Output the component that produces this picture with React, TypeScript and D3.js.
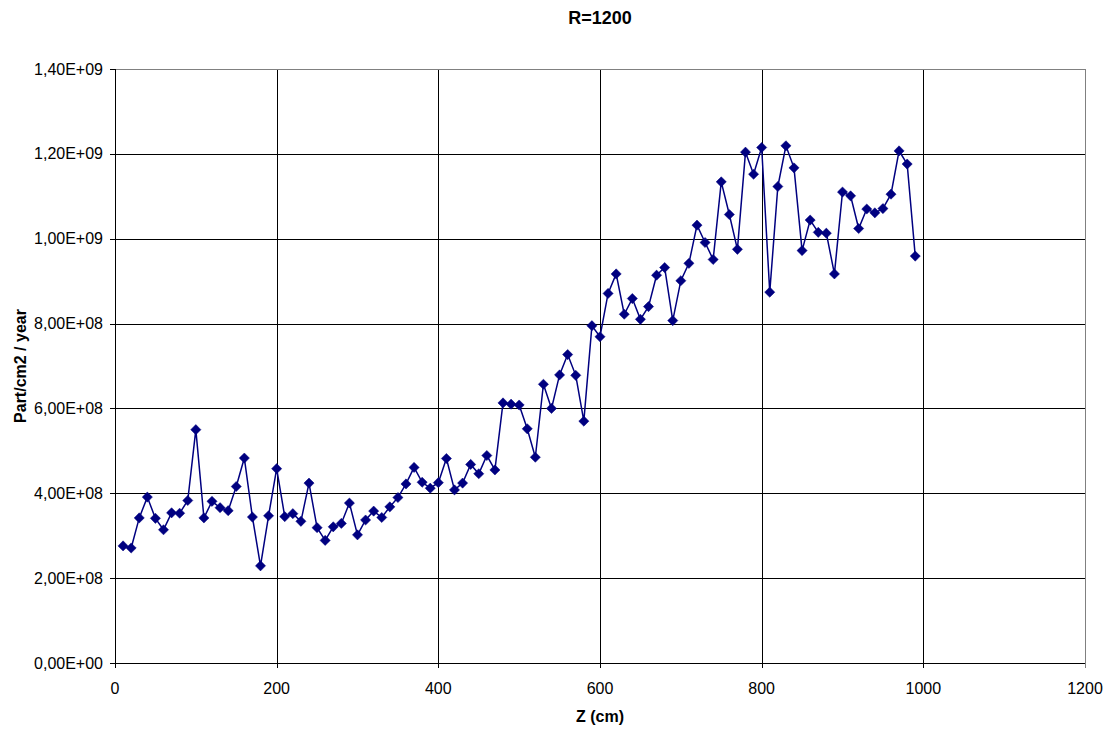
import React, { useEffect } from "react";
import * as d3 from "d3";

const zValues = [
  10, 20, 30, 40, 50, 60, 70, 80, 90, 100,
  110, 120, 130, 140, 150, 160, 170, 180, 190, 200,
  210, 220, 230, 240, 250, 260, 270, 280, 290, 300,
  310, 320, 330, 340, 350, 360, 370, 380, 390, 400,
  410, 420, 430, 440, 450, 460, 470, 480, 490, 500,
  510, 520, 530, 540, 550, 560, 570, 580, 590, 600,
  610, 620, 630, 640, 650, 660, 670, 680, 690, 700,
  710, 720, 730, 740, 750, 760, 770, 780, 790, 800,
  810, 820, 830, 840, 850, 860, 870, 880, 890, 900,
  910, 920, 930, 940, 950, 960, 970, 980, 990,
];

// values in units of 1e8 part/cm2/year
const fluxValues = [
  2.76, 2.71, 3.42, 3.91, 3.41, 3.14, 3.54, 3.53, 3.83, 5.5,
  3.42, 3.81, 3.66, 3.59, 4.16, 4.83, 3.44, 2.29, 3.47, 4.58,
  3.45, 3.52, 3.34, 4.24, 3.19, 2.89, 3.21, 3.29, 3.77, 3.02,
  3.37, 3.58, 3.43, 3.68, 3.9, 4.22, 4.61, 4.26, 4.12, 4.25,
  4.82, 4.08, 4.24, 4.68, 4.46, 4.89, 4.55, 6.13, 6.1, 6.08,
  5.52, 4.85, 6.57, 6.0, 6.79, 7.27, 6.78, 5.7, 7.95, 7.69,
  8.71, 9.17, 8.22, 8.59, 8.1, 8.4, 9.14, 9.32, 8.07, 9.01,
  9.42, 10.32, 9.91, 9.51, 11.34, 10.57, 9.75, 12.04, 11.52, 12.15,
  8.74, 11.23, 12.19, 11.67, 9.72, 10.44, 10.15, 10.13, 9.17, 11.1,
  11.01, 10.24, 10.7, 10.61, 10.71, 11.05, 12.07, 11.76, 9.59,
];

const xTicks = [0, 200, 400, 600, 800, 1000, 1200];
const yTicks = [0, 2e8, 4e8, 6e8, 8e8, 1e9, 1.2e9, 1.4e9];

const chartTitle = "R=1200";
const xTitle = "Z (cm)";
const yTitle = "Part/cm2 / year";

const W = 1110;
const H = 731;
const left = 115;
const right = 1085;
const top = 69;
const bottom = 663;

const fmtSci = (v: number) => {
  if (v === 0) return "0,00E+00";
  const e = Math.floor(Math.log10(v));
  const m = v / Math.pow(10, e);
  const sign = e < 0 ? "-" : "+";
  const ea = Math.abs(e);
  return m.toFixed(2).replace(".", ",") + "E" + sign + (ea < 10 ? "0" + ea : String(ea));
};

export default function App() {
  useEffect(() => {
    document.body.style.margin = "0";
  }, []);

  const x = d3.scaleLinear().domain([0, 1200]).range([left, right]);
  const y = d3.scaleLinear().domain([0, 1.4e9]).range([bottom, top]);

  const points = zValues.map((z, i) => ({ z, v: fluxValues[i] * 1e8 }));
  const line = d3
    .line<{ z: number; v: number }>()
    .x((d) => x(d.z))
    .y((d) => y(d.v));

  const diamond = d3.symbol().type(d3.symbolDiamond2).size(66)() as string;
  const font = "'Liberation Sans', Arial, sans-serif";

  return (
    <svg width={W} height={H} style={{ display: "block", background: "#fff" }}>
      {yTicks.slice(1, -1).map((t) => (
        <line key={"gy" + t} x1={left} x2={right} y1={Math.round(y(t)) + 0.5} y2={Math.round(y(t)) + 0.5} stroke="#000" strokeWidth={1} />
      ))}
      {xTicks.slice(1, -1).map((t) => (
        <line key={"gx" + t} x1={Math.round(x(t)) + 0.5} x2={Math.round(x(t)) + 0.5} y1={top} y2={bottom} stroke="#000" strokeWidth={1} />
      ))}
      <line x1={left} x2={right + 0.5} y1={top + 0.5} y2={top + 0.5} stroke="#808080" strokeWidth={1} />
      <line x1={right + 0.5} x2={right + 0.5} y1={top} y2={bottom} stroke="#808080" strokeWidth={1} />
      <line x1={left + 0.5} x2={left + 0.5} y1={top} y2={bottom + 5} stroke="#000" strokeWidth={1} />
      <line x1={left - 5} x2={right + 1} y1={bottom + 0.5} y2={bottom + 0.5} stroke="#000" strokeWidth={1} />
      {yTicks.map((t) => (
        <g key={"ty" + t}>
          <line x1={left - 5} x2={left} y1={Math.round(y(t)) + 0.5} y2={Math.round(y(t)) + 0.5} stroke="#000" />
          <text x={103} y={y(t)} dy="0.35em" textAnchor="end" fontFamily={font} fontSize={16} fill="#000">
            {fmtSci(t)}
          </text>
        </g>
      ))}
      {xTicks.map((t) => (
        <g key={"tx" + t}>
          <line x1={Math.round(x(t)) + 0.5} x2={Math.round(x(t)) + 0.5} y1={bottom} y2={bottom + 5} stroke={t === 1200 ? "#808080" : "#000"} />
          <text x={x(t)} y={694} textAnchor="middle" fontFamily={font} fontSize={16} fill="#000">
            {t}
          </text>
        </g>
      ))}
      <path d={line(points) || ""} fill="none" stroke="#000080" strokeWidth={1.5} />
      {points.map((p, i) => (
        <path key={"m" + i} d={diamond} transform={`translate(${x(p.z)},${y(p.v)})`} fill="#000080" stroke="#000080" strokeWidth={0.5} />
      ))}
      <text x={600} y={24} textAnchor="middle" fontFamily={font} fontSize={18} fontWeight="bold" fill="#000">
        {chartTitle}
      </text>
      <text x={600} y={722} textAnchor="middle" fontFamily={font} fontSize={16} fontWeight="bold" fill="#000">
        {xTitle}
      </text>
      <text
        transform={`translate(26,${(top + bottom) / 2}) rotate(-90)`}
        textAnchor="middle"
        fontFamily={font}
        fontSize={16}
        fontWeight="bold"
        fill="#000"
      >
        {yTitle}
      </text>
    </svg>
  );
}
